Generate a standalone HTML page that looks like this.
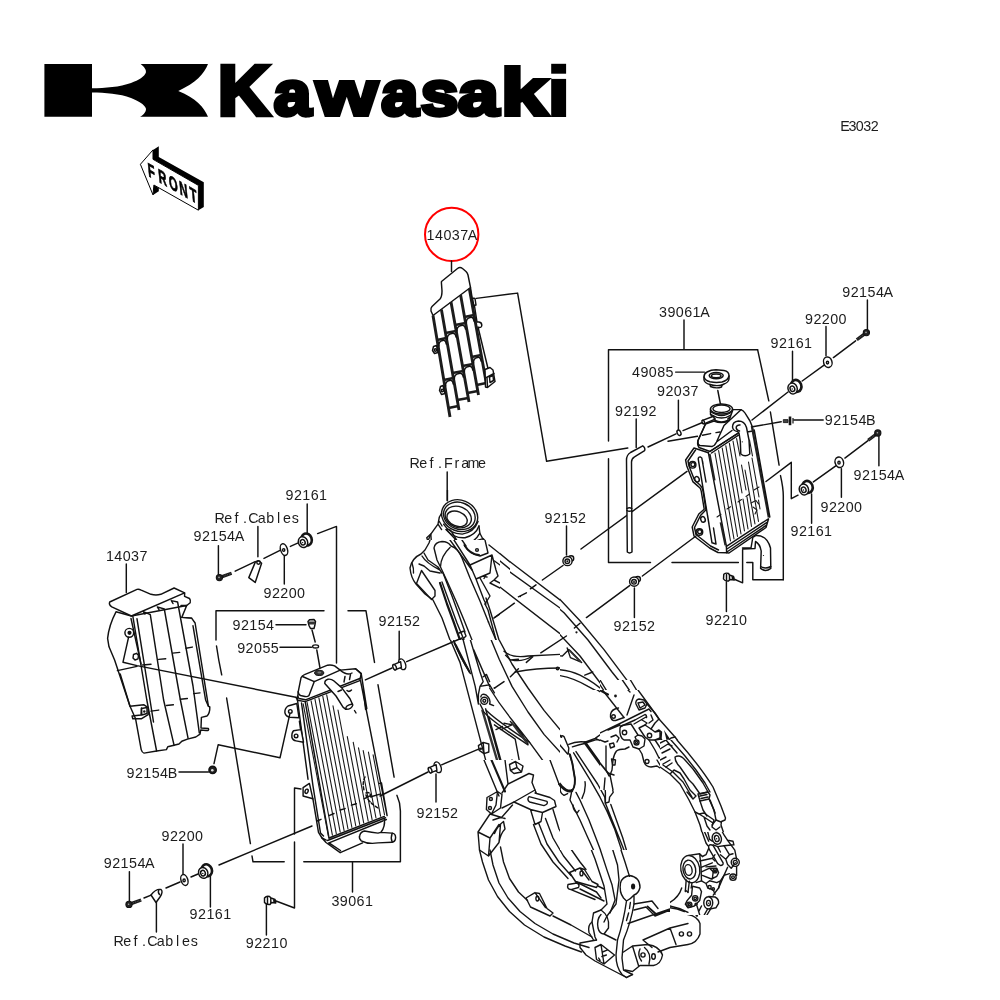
<!DOCTYPE html>
<html><head><meta charset="utf-8"><title>Kawasaki Radiator Parts Diagram</title>
<style>
html,body{margin:0;padding:0;background:#fff;}
body{width:1000px;height:1000px;overflow:hidden;font-family:"Liberation Sans",sans-serif;}
svg{display:block;will-change:transform;}
.l{fill:none;stroke:#111;stroke-width:1.45;stroke-linecap:round;stroke-linejoin:round;}
.t{fill:none;stroke:#1a1a1a;stroke-width:1.1;stroke-linecap:round;stroke-linejoin:round;}
.w{fill:#fff;stroke:#111;stroke-width:1.45;stroke-linecap:round;stroke-linejoin:round;}
.k{fill:#111;stroke:none;}
.fr{fill:none;stroke:#151515;stroke-linecap:round;stroke-linejoin:round;}
.fr .f{fill:#151515;stroke:none;}
.lbl text{font-family:"Liberation Sans",sans-serif;font-size:14.3px;fill:#1c1c1c;}
</style></head><body>
<svg width="1000" height="1000" viewBox="0 0 1000 1000">
<rect width="1000" height="1000" fill="#fff"/>
<!-- 00_logo.svg -->
<g id="logo">
<path fill="#000" d="M44.4 64.1 H92 V88.2 C105 88.2 120 87 131 83 C139 80 144.5 76.5 145.9 72.5 C146.5 70 144 66.5 140.6 64.1 H208 C204 74 196 83 178.3 90.9 C196 98 204 107 208 116.8 H140.1 C144 114.5 146.5 111 145.9 108.4 C144.5 104.5 139 101 131 97.9 C120 94 105 92.6 92 92.6 V116.8 H44.4 Z"/>
<g font-family="Liberation Sans, sans-serif" font-weight="bold" font-size="70.20" fill="#000" stroke="#000" stroke-width="4.4" stroke-linejoin="miter">
<text transform="matrix(1.0342 0 0 1.0000 217.84 114.60)" vector-effect="non-scaling-stroke">K</text>
<text transform="matrix(0.9617 0 0 0.9090 273.82 114.60)" vector-effect="non-scaling-stroke">a</text>
<text transform="matrix(1.1301 0 0 0.9090 315.93 114.60)" vector-effect="non-scaling-stroke">w</text>
<text transform="matrix(0.9510 0 0 0.9090 381.24 114.60)" vector-effect="non-scaling-stroke">a</text>
<text transform="matrix(0.9675 0 0 0.9090 420.81 114.60)" vector-effect="non-scaling-stroke">s</text>
<text transform="matrix(1.0472 0 0 0.9090 458.05 114.60)" vector-effect="non-scaling-stroke">a</text>
<text transform="matrix(1.2014 0 0 0.9495 500.81 114.60)" vector-effect="non-scaling-stroke">k</text>
<rect x="551.2" y="63.8" width="14.9" height="9.9" stroke="none"/><rect x="551.2" y="78.9" width="14.9" height="38.1" stroke="none"/>
</g></g>
<!-- 01_front.svg -->
<g id="front">
<path fill="#000" d="M153 149.9 L158.8 146.3 V157.1 L203.8 182.3 V207 L198.4 210.2 V185.4 L153 159.3 Z"/>
<path fill="#000" d="M153.9 185 L158.8 188.1 V191.3 L153 194.9 Z"/>
<path d="M140.4 164.3 L153 149.9 V159.3 L198.4 185.4 V210.2 L153.9 185 L153 194.9 Z" fill="#fff" stroke="#000" stroke-width="1" stroke-linejoin="miter"/>
<g transform="matrix(1 0.575 0.1 1 149.4 176.4)"><text x="-1.4 16.7 34.8 52.6 71" y="0" font-family="Liberation Sans, sans-serif" font-weight="bold" font-size="19.6" fill="#000" stroke="#000" stroke-width="0.8" transform="scale(0.58 1)">FRONT</text></g>
</g>

<!-- 02_redcircle.svg -->
<circle cx="451.7" cy="234.4" r="26.7" fill="none" stroke="#f00" stroke-width="2"/>

<!-- 05_frame.svg -->
<g id="frame">
<defs>
<clipPath id="cpA"><rect x="400" y="480" width="160" height="160"/></clipPath>
<clipPath id="cpA2"><rect x="420" y="490" width="90" height="90"/></clipPath>
<clipPath id="cpA3"><rect x="400" y="540" width="100" height="100"/></clipPath>
<clipPath id="cpB"><rect x="400" y="640" width="160" height="160"/></clipPath>
<clipPath id="cpC"><rect x="560" y="560" width="140" height="160"/></clipPath>
<clipPath id="cpF"><rect x="620" y="780" width="140" height="140"/></clipPath>
<clipPath id="cpN"><rect x="560" y="690" width="80" height="110"/></clipPath>
<clipPath id="cpE"><rect x="600" y="680" width="160" height="160"/></clipPath>
<clipPath id="cpE1"><rect x="600" y="690" width="95" height="100"/></clipPath>
<clipPath id="cpL"><rect x="460" y="760" width="100" height="240"/><rect x="560" y="800" width="60" height="200"/><rect x="620" y="840" width="140" height="160"/></clipPath>
<clipPath id="cpP"><rect x="560" y="730" width="40" height="120"/><rect x="600" y="790" width="60" height="60"/></clipPath>
<clipPath id="cpE2"><rect x="660" y="740" width="100" height="100"/></clipPath>
<clipPath id="cpF1"><rect x="670" y="832" width="90" height="83"/></clipPath>
</defs>
<g clip-path="url(#cpA)"><rect x="400" y="480" width="160" height="160" fill="#fff"/>
<g class="fr" transform="translate(400 480) scale(0.16000)" stroke-width="8.75"><ellipse cx="368" cy="225" rx="114" ry="104" transform="rotate(8 368 225)"/>
<ellipse cx="370" cy="228" rx="98" ry="87" transform="rotate(8 370 228)"/>
<ellipse cx="372" cy="233" rx="83" ry="70" transform="rotate(6 372 233)"/>
<ellipse cx="370" cy="240" rx="72" ry="54" transform="rotate(4 370 240)"/>
<path d="M258 265 Q290 350 395 345 Q470 335 486 265 M268 300 Q300 372 400 368 Q470 358 492 300"/>
<path d="M255 235 L245 285 L215 322 L187 350 L170 368 L186 388 L165 402 L150 450 L110 470 L70 520 L60 580 L90 640 L150 700 L220 800 L290 1000"/>
<path d="M245 285 Q235 300 250 320 M230 270 Q222 280 228 292 M187 350 L200 372 L186 388"/>
<path d="M482 250 L492 330 L550 440 L580 470 M440 530 L575 470 L600 560 L610 610 L545 650 L470 610 M440 530 L470 610 M455 570 L585 510 M470 610 L600 555 M520 610 L545 650 M530 595 L550 605 M535 588 L545 612"/>
<path d="M290 310 Q300 300 320 320 L440 530 M335 330 L450 500 M400 420 L450 400 L510 380 L530 440 L470 480 L440 480 Z M400 420 L440 480"/>
<circle cx="482" cy="436" r="8"/>
<path d="M215 445 Q220 405 250 398 Q300 392 335 432 L380 452 M215 445 L240 540 L300 700 L400 1000 M380 452 L430 600 L510 800 L590 1000 M335 432 Q300 440 285 470 L260 500"/>
<path d="M150 450 L200 540 L240 580 L300 700 M110 470 Q150 480 165 520 L230 580 M70 520 Q100 560 150 575 L235 600 L270 640 M130 600 L215 690 L215 730 L290 1000 M165 560 L240 590 M250 640 L340 1000 M265 640 L370 960 L385 1000 M270 600 L300 640"/>
<path d="M470 640 L520 720 L540 760 L590 1000 M500 650 L560 800 M545 650 L590 640 L600 655 L540 720 M520 720 L545 690 M525 770 L535 745"/>
<path d="M580 430 L700 520 L1000 750 M610 520 L1000 800 M600 650 L1000 960 M560 800 L600 860 L620 1000"/>
<circle cx="752" cy="728" r="5" class="f"/><circle cx="550" cy="888" r="4" class="f"/></g></g>
<g clip-path="url(#cpA2)"><rect x="420" y="490" width="90" height="90" fill="#fff"/>
<g class="fr" transform="translate(420 490) scale(0.09000)" stroke-width="15.56"><path d="M655 400 L665 480 Q600 600 480 610 Q420 600 385 540 L290 440"/>
<ellipse cx="440" cy="285" rx="205" ry="172" transform="rotate(22 440 285)" fill="#fff"/>
<ellipse cx="437" cy="287" rx="180" ry="148" transform="rotate(22 437 287)"/>
<ellipse cx="425" cy="300" rx="150" ry="115" transform="rotate(22 425 300)"/>
<ellipse cx="412" cy="320" rx="118" ry="80" transform="rotate(22 412 320)"/>
<path d="M262 380 Q330 490 470 490 Q600 470 645 350 M290 440 Q380 540 500 530 Q620 500 655 400"/>
<path d="M240 260 L215 300 L200 380 L120 490 L75 530 L100 600 L125 560 L120 490 M100 600 L60 640 L0 720 M200 380 L240 440 M215 350 L245 400"/>
<path d="M300 440 Q330 430 350 460 L480 680 L570 820 M385 540 L420 600 L560 800 M500 620 Q560 600 640 560 L700 540 M665 480 L780 700 L800 720 L560 820 L580 860 L830 760 L800 720 M500 620 L560 720 L640 760 L720 720 L690 600 M580 860 L620 1000 M830 760 L870 940 L800 1000"/>
<path d="M500 625 L560 720 L640 760" stroke-width="18"/>
<circle cx="635" cy="665" r="18"/><circle cx="635" cy="665" r="6" class="f"/>
<path d="M160 640 Q170 585 235 580 Q300 585 340 640 L390 690 M160 640 L190 760 L230 1000 M230 760 Q270 670 350 650 Q420 670 455 750 L520 1000 M340 640 Q290 650 250 700"/>
<path d="M120 490 L60 640 M0 700 L60 760 L180 880 L240 920 M100 760 L200 860 M0 880 L80 900 L160 960 L200 1000 M20 720 Q80 700 120 760"/>
<path d="M700 540 L760 600 L1000 800 M780 700 L1000 880 M700 940 L760 960 L740 990"/>
<path d="M305 -50 V120"/></g></g>
<g clip-path="url(#cpA3)"><rect x="400" y="540" width="100" height="100" fill="#fff"/>
<g class="fr" transform="translate(400 540) scale(0.10000)" stroke-width="14.00"><path d="M340 80 Q350 20 420 15 Q480 15 510 60 M340 80 L370 200 L405 270 L470 410 L560 610 L640 800 L720 1000 M510 60 Q580 80 620 180 L700 380 L800 610 L900 860 L960 1000 M405 265 Q410 160 500 75"/>
<path d="M400 430 L470 640 L540 830 L600 1000" stroke-width="22"/>
<path d="M420 420 L500 640 L570 830 L640 1000 M430 330 L520 560 L600 780 L650 920 M590 930 L640 910 L660 960 L620 1000"/>
<path d="M210 140 Q120 180 100 280 Q110 380 160 440 L250 540 L330 600 L420 780 L500 1000 M210 140 L250 100 L290 30 L300 0"/>
<path d="M165 435 L215 305 L350 505 L350 560 L315 595 Z"/>
<path d="M220 160 Q260 230 400 300 M240 130 L280 200 L380 270 L420 330 M190 240 L240 260 L300 310 L400 330 M120 230 Q140 290 135 330"/>
<path d="M700 250 L920 150 L960 300 L980 360 L940 400 L900 430 M700 250 L760 390 L900 330 L920 150 M760 390 L840 600 L860 640 M800 380 L900 560 L850 640 M900 430 L1000 480 M940 400 L1000 430 M830 360 L870 370 M840 385 L860 350"/>
<path d="M640 50 Q700 150 800 160 L880 130 L850 0 M620 0 L660 60 M540 0 L700 250 M500 0 L690 260 L720 300"/>
<path d="M650 60 Q700 140 790 150" stroke-width="20"/>
<circle cx="770" cy="100" r="14"/><circle cx="770" cy="100" r="5" class="f"/>
<path d="M940 780 L1000 740 M850 640 L880 700 L960 1000 M860 580 L900 700 L990 1000 M890 50 L1000 138 M945 210 L1000 250"/><circle cx="885" cy="820" r="8" class="f"/></g></g>
<g clip-path="url(#cpB)"><rect x="400" y="640" width="160" height="160" fill="#fff"/>
<g class="fr" transform="translate(400 640) scale(0.16000)" stroke-width="8.75"><path d="M315 0 L375 140 L585 940 M335 0 Q380 120 440 210 M350 30 L430 190 M395 0 L470 290 L490 400 M440 0 L500 200 L520 260 L500 290 L490 340 L490 400 M460 60 L560 290 M520 230 L540 215 L560 260 M500 290 L560 280 L590 330"/>
<path d="M340 20 Q380 110 435 200" stroke-width="12"/>
<circle cx="527" cy="380" r="22"/><circle cx="527" cy="380" r="9"/>
<path d="M505 355 Q510 330 540 345 Q570 370 560 400 L585 410 M500 400 L520 440"/>
<path d="M515 440 L645 880" stroke-width="15" stroke="#333"/>
<path d="M535 430 L662 890 M555 480 L672 900"/>
<path d="M520 445 Q560 500 800 655 M540 440 Q600 500 810 640"/>
<path d="M490 660 L520 640 L555 650 L555 700 L525 710 L495 690 Z M520 640 L525 710"/><circle cx="505" cy="680" r="8" class="f"/>
<path d="M570 0 L620 120 L700 290 L800 450 L900 590 L1000 700 M620 0 L700 150 L800 300 L900 440 L1000 560"/>
<path d="M650 70 Q700 115 800 100 L1000 90 M720 200 Q850 175 1000 175 M660 95 L690 125 L740 120 M700 125 Q760 140 830 100"/>
<circle cx="590" cy="300" r="6" class="f"/><circle cx="985" cy="178" r="8"/>
<path d="M590 530 L720 620 L760 830 L770 870 L660 910 L640 880 M600 560 L640 540 M630 560 L700 530 L650 520"/>
<path d="M560 300 Q620 400 700 500 L810 640 L1000 900 M690 510 L740 560 L800 650"/>
<path d="M700 520 L790 640" stroke-width="12" stroke="#333"/>
<path d="M680 770 L700 750 L760 790 L770 830 L720 830 L690 810 Z M700 770 L740 800 L745 825"/>
<path d="M770 870 L820 830 L840 870 L830 900 L800 910 L810 950 L1000 1000 M560 980 L640 940 L650 960 L590 1000 M780 960 L900 1000"/></g></g>
<g clip-path="url(#cpC)"><rect x="560" y="560" width="140" height="160" fill="#fff"/>
<g class="fr" transform="translate(540 560) scale(0.16000)" stroke-width="8.75"><path d="M0 150 L100 220 L250 380 L400 560 L550 760 L650 900 L720 1000 M0 200 L150 330 L300 500 L450 700 L570 850 M0 370 L100 440 L250 600 L400 800 L480 900 L530 1000"/>
<path d="M0 590 L140 600 L180 560 L260 640 M170 550 L190 610 L260 640 M0 690 Q150 670 250 720 Q350 770 420 840 M0 720 Q150 700 300 790 L430 860 M280 720 L330 700"/>
<path d="M188 568 L250 632" stroke-width="13" stroke="#333"/>
<circle cx="228" cy="452" r="7" class="f"/><circle cx="110" cy="680" r="7"/><circle cx="470" cy="850" r="8" class="f"/>
<path d="M440 960 Q450 930 480 930 L520 960 M560 830 L600 820 L700 1000 M590 870 L640 850 L680 900 L600 940 M560 1000 L580 880 M600 940 L620 1000"/>
<circle cx="458" cy="975" r="9"/></g></g>
<g clip-path="url(#cpF)"><rect x="620" y="780" width="140" height="140" fill="#fff"/>
<g class="fr" transform="translate(620 780) scale(0.14000)" stroke-width="10.00"><path d="M400 0 L500 120 L560 250 L610 400 L620 450 M450 0 L540 110 L600 230 L650 330 M520 0 L600 90 L680 200 L720 290 L740 300 L750 260 L700 150 L620 20 L600 0 M560 110 L640 100 L650 130 M580 140 L680 280 M600 180 L700 300"/>
<path d="M620 150 L680 270" stroke-width="14"/>
<ellipse cx="690" cy="410" rx="30" ry="40" transform="rotate(-15 690 410)"/><ellipse cx="690" cy="410" rx="12" ry="18" transform="rotate(-15 690 410)"/>
<path d="M720 290 L760 420 L800 440 L790 470 L700 470 M640 440 L700 470 L740 560 L720 600 L660 500 Z M800 440 L830 520 L820 560 M760 500 L800 520 M740 470 L770 560 L750 620"/>
<circle cx="820" cy="590" r="28"/><circle cx="820" cy="590" r="12"/>
<path d="M780 620 L830 640 M770 650 L740 700 L790 690 M840 620 L830 680"/><circle cx="810" cy="690" r="16"/><circle cx="810" cy="690" r="7"/>
<path d="M470 545 L560 530 Q590 550 600 600 M520 735 L590 720 Q610 690 600 600"/>
<ellipse cx="500" cy="640" rx="62" ry="100" transform="rotate(-12 500 640)" fill="#fff"/><ellipse cx="497" cy="643" rx="42" ry="70" transform="rotate(-12 497 643)"/><ellipse cx="495" cy="645" rx="22" ry="35" transform="rotate(-12 495 645)"/>
<path d="M590 560 L660 580 L690 620 M600 620 L680 640 M600 660 L660 700 L700 690 M640 600 L700 650 L690 700 M560 530 L600 500 L620 450"/>
<path d="M470 720 L470 800 M500 730 L500 810 M440 800 L470 850 L520 800 L560 790 L580 830 L560 880 L500 910 L470 880 Z"/><circle cx="540" cy="845" r="18"/><circle cx="490" cy="885" r="15"/>
<ellipse cx="630" cy="870" rx="36" ry="42"/><ellipse cx="630" cy="872" rx="15" ry="20"/>
<path d="M600 740 L640 790 L700 770 L740 700 M580 740 L600 800 L590 830 M620 930 L600 1000 M660 920 L640 1000 M670 850 L700 840 L720 780"/>
<path d="M0 380 L60 680 M0 560 L40 700 M110 820 L130 1000 M20 830 L40 1000 M0 820 L50 830"/>
<ellipse cx="90" cy="760" rx="50" ry="62" transform="rotate(-15 90 760)"/><ellipse cx="92" cy="765" rx="15" ry="22" class="f" transform="rotate(-15 92 765)"/>
<path d="M130 880 L220 890 L260 960 L480 900 L520 920 M220 890 L240 1000 M260 960 L300 1000 M300 930 L470 880 M440 800 Q400 860 330 890 L260 960"/></g></g>
<g clip-path="url(#cpN)"><rect x="560" y="690" width="80" height="110" fill="#fff"/>
<g class="fr" transform="translate(480 640) scale(0.16000)" stroke-width="8.75"><path d="M70 0 L130 120 L200 240 L300 400 L400 530 L500 640 L560 720 M110 0 L160 100 L230 210 L330 370 L430 510 L520 610 L555 680"/>
<path d="M500 600 Q520 590 535 610 L560 690 L555 720"/>
<path d="M0 170 L60 300 L150 430 L250 560 L330 660 L400 760 L470 860 L520 920 Q550 950 570 935 Q595 900 590 830 L570 740 L555 690"/>
<path d="M470 860 L520 920 Q550 950 570 935" stroke-width="15"/>
<path d="M150 110 Q400 60 560 100 L600 130 M230 200 Q450 150 600 230 L700 290 L790 350 M240 215 Q450 170 590 245 L690 305 M545 60 Q560 40 580 55 L600 130 M560 100 L545 60 M640 215 L690 240 M700 240 L760 300"/>
<circle cx="565" cy="70" r="8"/><circle cx="480" cy="178" r="9"/>
<path d="M680 0 L780 130 L870 260 L950 360 M744 0 L812 94 L906 225 L1000 344 M519 0 L644 150 L737 269 L812 375 L860 440"/>
<circle cx="845" cy="350" r="9" class="f"/>
<path d="M790 350 L860 440 L900 490 M830 430 Q800 460 810 490 Q830 510 870 500 L900 490 M830 430 L860 440"/><circle cx="832" cy="478" r="12"/>
<path d="M560 660 Q600 640 660 640 L720 600 L1000 450 M600 660 Q640 650 690 630 L760 590 L820 620 M720 600 L780 640 M790 600 L790 820 L770 900 L790 1000 M740 620 L800 600"/>
<path d="M660 650 L800 830" stroke-width="15"/>
<path d="M810 650 L840 640 L850 670 L820 680 Z M825 745 L850 750 L848 790 L828 790 Z"/>
<path d="M570 740 L640 850 L700 1000 M590 720 L680 860 L740 1000 M620 700 L700 820 L780 1000 M600 770 L620 800 M650 880 Q670 920 650 980"/>
<path d="M850 850 L830 900 L850 940 L820 970 L830 1000 M900 700 Q920 690 1000 690 M880 720 Q850 780 850 850"/>
<path d="M880 560 Q890 540 920 545 L950 570 L1000 590 M880 560 Q875 600 910 620 L950 620 L980 640"/><circle cx="905" cy="578" r="14"/>
<path d="M940 340 Q960 330 1000 350 M950 420 L1000 400 M930 470 L1000 440"/></g></g>
<g clip-path="url(#cpE)"><rect x="600" y="680" width="160" height="160" fill="#fff"/>
<g class="fr" transform="translate(600 680) scale(0.16000)" stroke-width="8.75"><path d="M190 0 L300 180 L400 290 L550 470 L680 640 L750 780 L780 860 L760 900 L740 880"/>
<path d="M140 0 L250 160 L290 200 M330 230 L420 330 L520 450 L640 600 L700 700 M385 300 L470 400 L560 520 L650 650 L690 720"/>
<path d="M390 305 L430 365" stroke-width="14"/>
<path d="M0 30 L40 90 M0 0 L130 210 L160 230"/><circle cx="95" cy="100" r="7" class="f"/>
<path d="M70 200 Q60 240 100 250 L150 230 M100 170 L70 200"/><circle cx="85" cy="225" r="10"/>
<path d="M0 330 L280 190 M0 300 L270 170 M30 345 L120 300 M150 290 L290 220 M270 170 L300 180 L320 210 L310 250 L290 220 M215 100 L180 200 M240 110 Q220 150 250 180 L290 170"/>
<path d="M120 310 Q130 290 160 300 L200 340 L270 360 L280 410 L250 430 L200 410 L170 380 Q130 370 120 310 Z"/><circle cx="150" cy="330" r="12"/><circle cx="225" cy="385" r="15"/>
<path d="M240 290 L290 320 L340 300 L380 320 L380 370 L340 390 L300 380 L270 340 Z"/><circle cx="312" cy="350" r="14"/>
<path d="M0 420 Q60 380 100 350 M0 600 L40 590 L60 560 M40 430 L40 580 M60 395 L85 390 L90 415 L65 420 Z M70 500 L95 510 L85 540 L70 540 Z"/>
<path d="M0 520 L45 590" stroke-width="14"/>
<path d="M100 540 Q110 470 150 440 Q200 420 250 440 L270 500 Q290 540 340 540 L400 560 L500 640 L600 800 L650 950 L660 1000"/><circle cx="290" cy="510" r="13"/>
<path d="M340 400 L420 470 L500 530 L560 620 L620 700 L680 720 M360 470 L440 500 L520 600 L600 720 L640 800 L700 870 M420 470 L470 450 L560 520 M400 530 L470 600 M600 720 L660 700 L690 720 L700 760 M620 740 L690 760 M640 800 L700 790 M650 850 L720 900 M700 930 L740 960 M710 870 L730 940"/>
<path d="M685 765 L715 845" stroke-width="12"/>
<circle cx="725" cy="985" r="20"/>
<path d="M0 800 L60 1000 M40 790 L100 1000 M0 640 Q30 700 20 780 M60 610 Q90 650 60 700 L40 790"/></g></g>
<g clip-path="url(#cpE1)"><rect x="600" y="690" width="95" height="100" fill="#fff"/>
<g class="fr" transform="translate(595 690) scale(0.10000)" stroke-width="14.00"><path d="M40 0 L130 45" stroke-width="20"/>
<path d="M75 0 L290 275"/><circle cx="205" cy="60" r="14" class="f"/>
<path d="M200 190 Q150 210 155 270 Q170 320 220 300 L290 275 M200 190 L235 180"/><circle cx="185" cy="265" r="18"/>
<path d="M390 50 L320 250 M430 0 L540 150 L640 290 L800 470 L1000 730 M330 0 L350 20"/>
<path d="M410 140 Q400 100 440 90 L490 100 L520 140 L500 180 L440 200 Z M430 130 L480 120 L500 150 L450 180 Z"/>
<path d="M0 455 L280 320 L540 190 L560 215 M255 365 L400 300 M390 340 L510 270 M400 300 L500 245 Q520 250 515 275 M130 400 L250 350 M0 480 L100 520 L130 510"/>
<path d="M250 380 Q260 350 300 350 L360 340 L430 450 L470 460 L500 490 L490 560 L440 590 L380 570 L350 500 L290 500 Q240 470 250 380 Z M430 450 L400 470 L410 490"/><circle cx="295" cy="425" r="22"/><circle cx="415" cy="525" r="25"/><circle cx="415" cy="525" r="11"/>
<path d="M440 380 L500 350 L560 390 L600 420 L650 410 L650 480 L600 500 L540 500 L500 470 Z M600 420 L640 400 L665 420 L660 490 L600 500"/><circle cx="545" cy="455" r="22"/>
<path d="M520 140 L600 230 L640 290 L600 330 L560 390 M560 250 L580 300 L540 330 M470 300 L520 330 L500 350"/>
<path d="M690 400 L750 490 L715 500 Z" class="f"/>
<path d="M650 480 L700 540 L720 620 L690 640 M600 500 L640 560 L680 620 M700 540 L760 480 L800 470 M720 620 L800 580 L820 600 L760 650 M680 640 L740 700 L700 760 L660 740 M640 680 L700 660 L740 700 M660 720 L700 700 M690 770 L740 740 M800 650 Q860 640 900 700 L960 760 L1000 780 M760 650 L840 720 L900 800 L940 900 L1000 1000 M700 760 L780 830 L860 900 L900 1000 M620 700 L680 800 L760 860 L830 940 L870 1000 M540 500 L600 600 L640 680"/>
<path d="M215 610 Q240 590 300 590 L340 570 M215 610 Q190 640 180 700 L170 800 L150 850 M440 590 L470 640 L490 720 Q510 770 560 770 L620 760 L680 800"/><circle cx="520" cy="715" r="20"/>
<path d="M110 560 L110 800 L140 860 M145 540 L185 530 L195 565 L155 580 Z M165 690 L205 700 L200 750 L175 750 Z M100 880 L90 1000 M150 850 L180 1000 M0 900 L20 1000 M130 830 L190 850 M160 470 L210 450 L240 480 L220 520"/>
<path d="M0 670 L130 830" stroke-width="18"/></g></g>
<g clip-path="url(#cpL)"><rect x="460" y="760" width="300" height="240" fill="#fff"/>
<g class="fr" transform="translate(460 760) scale(0.30000)" stroke-width="4.67"><path d="M80 0 L130 120 M150 0 L160 80 L230 45 L245 50 L240 75 L250 100 L180 140 L140 160 M160 80 L140 110"/>
<path d="M105 0 L150 105" stroke-width="7"/>
<path d="M165 15 L185 5 L210 20 L205 40 L180 45 L168 35 Z M185 5 L190 25 L205 40 M190 25 L168 35"/>
<path d="M90 125 L125 105 L140 115 L135 160 L105 180 L88 165 Z M125 105 L120 150 L105 180"/><circle cx="103" cy="130" r="5"/><circle cx="100" cy="160" r="5"/>
<path d="M60 240 L100 180 L150 195 M60 240 L65 300 L95 320 L130 275 L135 215 M95 320 L100 260 L130 215 M60 240 L100 260 M110 200 L140 190 L175 150 M115 245 Q125 220 145 205 L150 230 Q135 245 130 275"/>
<path d="M180 140 L235 165 L250 215 L270 205 L275 175 L320 155 L315 135 L300 125 L250 110 M235 165 L275 175 M230 122 Q222 132 232 140 L280 152 Q295 148 290 138 Z M250 100 L255 112"/>
<path d="M65 300 L75 340 L95 400 L125 455 L165 505 L215 550 L280 590 L350 620 L405 640 M100 300 L110 350 L130 410 L160 460 L200 505 L250 545 L310 580 L380 610 L430 625 M135 290 L145 340 L165 395 L195 440 L225 468 M310 520 L370 550 L440 590"/>
<path d="M220 460 L250 442 L265 445 L290 495 L310 510 L300 520 L235 490 Z M250 442 L285 492 M265 445 L290 495"/><ellipse cx="258" cy="462" rx="5" ry="8"/>
<path d="M245 215 L270 280 L310 340 L360 395 M262 210 L290 280 L330 340 L370 385 M285 195 L310 260 L345 320 L385 370 M310 165 L330 230 L365 290 L400 340 L420 365 M400 430 L460 460 L480 470 M460 420 L480 430"/>
<path d="M365 375 L400 360 L415 365 L440 405 L460 415 L455 425 L385 405 Z M400 360 L430 400 M415 365 L440 405"/><ellipse cx="405" cy="378" rx="5" ry="8"/>
<path d="M360 415 Q355 430 370 432 L395 425 Q400 415 390 410 Z M385 405 L455 440 L470 460 M370 432 L450 465"/>
<path d="M300 0 L330 80 M330 80 L370 150 L410 230 L450 330 L480 420 L490 480 L470 500 L445 510 L440 540 L450 590 L455 600"/>
<path d="M330 80 Q350 110 375 95 Q390 60 380 0" stroke-width="7"/>
<path d="M400 133 L468 300 L490 367 L507 417 L517 467 L500 510"/>
<path d="M420 0 L440 60 L480 150 L520 250 L550 340 L565 388 M395 0 L420 80 L460 170 L500 270 L525 350 L530 400 L520 480 L490 520 L480 540 M480 0 L490 40 L500 30 L505 70 L515 60 L512 110 L520 140 M350 140 L365 175 M395 90 Q390 110 398 125"/>
<path d="M535 410 Q540 390 565 385 Q600 390 600 425 Q595 445 580 450 L580 480 Q570 540 545 600 L540 660 L545 700 L575 715 M535 410 Q530 440 545 460 L555 470 Q545 540 525 600 L520 650 Q520 690 540 715 L555 725 M580 450 Q570 462 555 470 M568 475 L565 495 M562 510 L555 535"/>
<ellipse cx="577" cy="422" rx="7" ry="10" class="f"/>
<path d="M455 600 L400 610 L400 625 L420 650 L450 670 L555 725 L575 715 M440 540 Q425 550 430 575 L445 600 M470 500 Q500 520 495 560 L480 580 Q465 580 460 560 Q455 530 470 515 M480 580 L520 600"/>
<path d="M450 625 L470 615 L515 650 L480 680 L455 665 Z M470 615 L480 680 M475 640 L490 634 M473 655 L488 650 M462 660 L467 668"/>
<path d="M580 480 L640 470 M560 545 L690 500 L760 515 Q790 520 800 545 L800 580 Q790 610 760 615 L700 625 L660 640 M610 600 L700 560 L720 615 M610 600 L640 625 M580 500 L620 490 L650 520 L700 500 M640 470 L660 495 M690 500 L720 490 L770 500 L790 520 M700 560 L760 545"/>
<path d="M625 488 L655 515" stroke-width="6"/>
<circle cx="738" cy="580" r="7"/><circle cx="765" cy="580" r="7"/>
<path d="M545 640 L575 620 L625 615 Q665 620 675 650 Q670 680 645 685 L600 685 L575 705 L550 700 M575 620 L595 685 M600 630 Q590 650 605 670 M615 625 Q640 645 630 680"/><ellipse cx="645" cy="655" rx="6" ry="9"/><circle cx="610" cy="650" r="7"/>
<path d="M790 520 L810 470 L790 450 M700 500 Q740 470 750 440 M720 490 L760 440"/></g></g>
<g clip-path="url(#cpP)"><rect x="540" y="730" width="120" height="120" fill="#fff"/>
<g class="fr" transform="translate(540 730) scale(0.12000)" stroke-width="11.67"><path d="M60 0 L230 200 M130 0 L180 60 M165 60 Q180 40 200 55 L240 150 L235 200"/>
<path d="M0 225 L120 400 L180 470 Q230 520 265 505 Q295 480 290 400 L270 280 L245 200"/>
<path d="M120 400 L180 470 Q230 520 265 505" stroke-width="24"/><path d="M265 505 Q295 480 290 400 L270 280 L250 205" stroke-width="16"/>
<path d="M170 480 Q160 520 200 545 L230 530 M275 625 Q275 670 310 690 L325 670"/>
<path d="M240 120 Q300 90 380 100 L460 70 L540 10 M270 140 Q330 120 380 110 L470 80 L560 95 L640 60 M470 75 L520 95"/>
<path d="M375 105 L565 370" stroke-width="24"/>
<path d="M555 130 L555 350"/>
<path d="M265 510 L250 583 L333 750 L400 900 L446 1000 M280 190 L420 420 L500 560 L560 680 L620 820 L680 1000 M300 180 L400 330 L480 450 L540 560 L545 610 M300 520 L333 583 L408 750 L466 900 L504 1000 M545 610 L600 750 L660 900 L700 1000 M590 620 L640 760 L690 900 L720 1000 M375 430 Q385 500 350 570"/>
<path d="M565 370 L610 380 L625 400 L600 470 L610 520 L580 560 L575 600 L545 610 M540 380 Q535 450 545 520 L545 610 M565 480 L600 465"/>
<path d="M585 115 L615 105 L625 135 L595 145 Z M600 240 L630 250 L625 300 L605 300 Z"/>
<path d="M650 60 Q700 100 700 170 M715 170 Q660 200 640 290 L625 400"/></g></g>
<g clip-path="url(#cpE2)"><rect x="660" y="740" width="100" height="100" fill="#fff"/>
<g class="fr" transform="translate(660 740) scale(0.10000)" stroke-width="14.00"><path d="M170 0 Q400 260 530 470 L610 660 L655 780 L650 800 L615 815 L610 850 L640 940 L680 1000"/>
<path d="M110 0 L250 160 L360 300 L450 430 L500 520"/>
<path d="M150 170 Q200 140 250 200 L330 290 L430 430 L480 520 L400 540 L330 440 L290 400 L200 270 Q150 220 150 170 Z"/>
<path d="M0 270 L100 340 L200 440 L290 600 L350 720 L400 850 L440 1000 M30 250 L130 320 L230 420 L320 570 M240 390 L300 500 L360 560 L330 590 L270 520 M100 340 L140 300 L200 330 L240 390"/>
<path d="M380 540 L480 520 L500 550 L490 590 L400 610 Z M400 560 L470 545 M410 585 L480 570"/>
<path d="M400 610 L430 700 L470 760 M490 590 L540 700 L560 800 L520 850"/>
<path d="M500 600 L550 730" stroke-width="16"/>
<path d="M390 740 L440 730 L540 800 L530 830 L440 770 Z M440 770 L470 860 L500 900 M530 830 L520 870 L560 900 L600 870 M560 800 L610 820 M350 720 L390 740"/>
<circle cx="565" cy="965" r="40"/><circle cx="565" cy="968" r="15" class="f"/>
<path d="M0 30 L60 0 M0 90 L80 40 L120 60 M20 130 L100 90 M0 200 L60 170 M30 240 L100 200 M60 270 L120 230 M60 0 L110 60 L170 130"/></g></g>
<g clip-path="url(#cpF1)"><rect x="670" y="832" width="90" height="83" fill="#fff"/>
<g class="fr" transform="translate(670 825) scale(0.09000)" stroke-width="15.56"><path d="M190 340 L330 320 L360 350 M290 640 L350 620 M330 320 Q350 470 350 620"/>
<ellipse cx="225" cy="490" rx="105" ry="152" transform="rotate(-10 225 490)" fill="#fff"/><ellipse cx="215" cy="495" rx="70" ry="105" transform="rotate(-10 215 495)"/><ellipse cx="205" cy="500" rx="40" ry="60" transform="rotate(-10 205 500)"/>
<path d="M330 400 L470 370 L500 400 M345 470 L470 420 M350 520 L440 480 L520 480 L540 530 M360 560 L460 600 L520 570 L540 530 M470 370 L500 330 M440 480 L480 520 L470 600 M360 350 L400 330 L430 260"/>
<path d="M400 465 L510 455" stroke-width="16"/>
<circle cx="500" cy="510" r="22"/><circle cx="500" cy="510" r="9"/>
<path d="M330 0 L400 200 L420 230 M350 0 L430 180 M400 0 L440 160 L470 180 M450 0 L480 60 M540 0 L600 110 L640 170 L700 180 L710 220 L600 230 L530 240 L480 220"/>
<ellipse cx="520" cy="150" rx="50" ry="65" transform="rotate(-15 520 150)"/><ellipse cx="520" cy="150" rx="25" ry="35" transform="rotate(-15 520 150)"/><circle cx="518" cy="152" r="8" class="f"/>
<path d="M430 230 Q450 210 480 230 L590 420 Q595 450 560 450 L530 430 L430 260 Z"/>
<path d="M640 170 L720 280 L740 380 M600 230 L660 330 L620 380 L560 330 M660 330 L700 320 M620 380 L640 440 L680 480 L720 430 M530 240 L560 300"/>
<circle cx="725" cy="415" r="45"/><circle cx="725" cy="415" r="22"/><circle cx="725" cy="415" r="8" class="f"/>
<circle cx="700" cy="580" r="35"/><circle cx="700" cy="580" r="15"/>
<path d="M740 460 L740 560 M660 540 L600 560 L540 700 L480 780 M640 470 L600 560"/>
<path d="M180 610 L170 740 M215 625 L200 750 M245 640 L235 700"/><path d="M172 725 L200 745" stroke-width="16"/>
<path d="M130 700 Q100 800 0 860 M0 900 Q100 920 200 970 M250 680 L330 700 L350 740 L330 840 L270 900 L200 920 L170 880 L190 840 L240 780 Z"/>
<circle cx="280" cy="815" r="30"/><circle cx="280" cy="815" r="14"/><circle cx="215" cy="885" r="28"/><circle cx="215" cy="885" r="12"/><circle cx="290" cy="880" r="12"/>
<path d="M0 920 Q80 925 160 962" stroke-width="16"/>
<path d="M430 795 L500 800 Q545 820 540 870 L510 920 L440 935"/>
<ellipse cx="425" cy="865" rx="50" ry="68" fill="#fff"/><ellipse cx="428" cy="868" rx="22" ry="30"/><circle cx="430" cy="870" r="8" class="f"/>
<path d="M350 620 L400 650 L420 700 L480 720 L500 770 M400 650 L440 620 L520 640 L560 620 L600 560 M560 620 L540 700"/>
<circle cx="440" cy="690" r="18"/><circle cx="480" cy="712" r="14"/>
<path d="M420 930 L380 1000 M450 935 L410 1000 M300 900 L330 1000 M350 900 L320 960"/></g></g>
</g>
<!-- 10_guardA.svg -->
<g id="guardA">
<path class="w" d="M441.5 281.5 L457.5 268.5 Q460 266.5 462.5 268.5 L466 271.5 Q467.5 273 468 275 L470.5 287.5 L433 315.5 L431 311 Q430.5 308 432 306.5 L440 299 Q442 296.5 442 291 L441.5 284 Q441.3 282.5 441.5 281.5 Z"/>
<path class="l" d="M451.5 261 V271.5"/>
<path d="M433.0 315.5 L450.0 417.0 M441.4 309.5 L459.0 410.0 M451.0 302.0 L469.0 402.0 M460.6 295.0 L478.5 395.0 M469.3 288.5 L487.0 387.0 " fill="none" stroke="#1c1c1c" stroke-width="2.9" stroke-linecap="butt"/>
<path d="M437.1 340.0 L446.4 338.0 M445.5 333.0 L456.2 331.0 M455.1 325.0 L465.6 323.0 M464.5 317.0 L474.1 315.0 M443.8 380.0 L453.4 378.0 M452.5 373.0 L463.4 371.0 M462.5 366.0 L473.0 364.0 M471.7 357.0 L481.2 355.0 M448.5 408.0 L458.3 406.0 M457.2 400.0 L468.3 398.0 M467.4 393.0 L477.8 391.0 M476.7 385.0 L486.3 383.0 " fill="none" stroke="#1c1c1c" stroke-width="2.7"/>
<path d="M438.9 346.0 Q438.4 341.5 442.6 340.5 Q445.5 339.5 446.3 344.0 M447.4 339.0 Q446.9 334.5 451.8 333.5 Q455.3 332.5 456.1 337.0 M457.0 331.0 Q456.5 326.5 461.3 325.5 Q464.7 324.5 465.5 329.0 M466.4 323.0 Q465.9 318.5 470.2 317.5 Q473.2 316.5 474.0 321.0 M445.6 386.0 Q445.1 381.5 449.5 380.5 Q452.5 379.5 453.3 384.0 M454.4 379.0 Q453.9 374.5 458.9 373.5 Q462.5 372.5 463.3 377.0 M464.4 372.0 Q463.9 367.5 468.6 366.5 Q472.0 365.5 472.8 370.0 M473.6 363.0 Q473.1 358.5 477.4 357.5 Q480.3 356.5 481.1 361.0 " class="l" stroke-width="1.2"/>
<path class="l" d="M470.5 287.5 L472 297 M472.5 298 L475 298.5 L476 305 L473.8 305.5 Z M474.5 306 L477 322 L479 322 Q482 322.5 481.8 325.5 Q481.5 328 478.5 327.5 L478 327 L488 368.5"/>
<path class="l" d="M476.3 298.4 L517.6 293.1 L546.6 461.3 L627.8 448"/>
<path class="w" d="M485 369.5 L490 367.5 L493 370 L495 381.5 L487.5 387.5 L485.5 387 Z"/>
<path class="l" d="M486.5 377.5 L494 373.5 M487 378 L487.5 387 M489.5 377 L493 375.5 L493.5 380.5 L490 382.5 Z"/>
<path class="w" d="M436.5 345.5 L433.5 346.5 L432.5 350.5 L434.5 353.5 L438 352.5 Z M443 385.5 L440.5 386.5 L439.5 390.5 L441.5 394.5 L445 393.5 Z"/>
<circle class="l" cx="435.5" cy="350" r="1.2"/><circle class="l" cx="442.3" cy="390.5" r="1.2"/>
</g>
<!-- 20_radR.svg -->
<g id="radR">
<!-- assembly box lines -->
<path class="l" d="M684 320 V349.7 M608.5 441 V349.7 H757.6 M608.5 458.8 V562.4 H650.5 M672 562.4 H738.4 M746.8 562.4 H752.8 V579.8 H783.3"/>
<!-- cap 49085 -->
<path class="w" d="M704 380 L704 377 Q704 373.5 707 372 Q711 369.8 716 369.8 L724 370.5 Q729 371.5 729 375.5 L729 379 Q728.5 382.5 724 384 L722 385 L721.5 387 Q716 389 710.5 386.5 L710 384.5 Q704.5 383 704 380 Z"/>
<path class="l" d="M704 377 Q705 380.5 710 381.8 Q716 383 722 382 Q728 380.5 729 376 M710 384.5 Q716 386.5 722 385"/>
<ellipse class="l" cx="716.2" cy="375.6" rx="7" ry="3.2"/><ellipse class="l" cx="716.2" cy="375.8" rx="4.8" ry="1.9"/>
<path class="l" d="M675.6 372.1 H704.5 M717.8 390.5 L721 407"/>
<!-- filler neck -->
<path class="w" d="M710.5 409 V414.5 Q712 417.5 715 418.5 V420.5 Q721.5 423.5 728 420.5 V418.5 Q731.5 417.5 732.5 414.5 V409 Z"/>
<ellipse class="w" cx="721.5" cy="409" rx="11" ry="5"/><ellipse class="l" cx="721.5" cy="408.8" rx="8.6" ry="3.7"/>
<path class="l" d="M710.5 411.5 Q721.5 419.5 732.5 411.5 M711 414.5 Q721.5 421.5 732 414.5"/>
<!-- small pipe -->
<path class="w" d="M702.6 420.4 L713.5 416.3 L714.5 419.3 L704 423.8 Z"/>
<ellipse class="w" cx="703.2" cy="422" rx="1.2" ry="1.9" transform="rotate(-20 703.2 422)"/>
<!-- tank body -->
<path class="w" d="M705.5 424 L714 421 Q721.5 424.5 729 420.5 L733 409.6 H741 Q743.5 410.5 745 413 L750 421 L752 426 L753 431 L737.5 433.5 L710 451.5 L699 447.5 Q697 445 698 440.5 Z"/>
<path class="l" d="M705.5 424 L698 440.5 Q697.3 444.5 700 445.5 L712 446.5 Q714.5 446 716.5 442 L724 425.5 L741 409.8 M716.5 442 L732 430.5"/>
<!-- hose elbow upper -->
<path class="w" d="M737.5 431.5 Q733 431 732.5 427 Q732.5 421.5 738.5 421 Q744.5 421 746.5 427.5 L749 440 L749.8 454 Q745 457.5 740.8 454 L740.3 441 L739 433 Z"/>
<path class="l" d="M739.5 431 Q736 430 736.2 427 Q737 424.5 740 425"/>
<circle class="k" cx="742.3" cy="441.8" r="0.6"/>
<!-- right side strip -->
<path d="M751.8 426 L768.8 517.5" fill="none" stroke="#222" stroke-width="2.2"/>
<path class="l" d="M754.2 430 L769.8 517"/>
<!-- core outline -->
<path class="l" stroke-width="1.3" d="M708.4 452.8 L726.4 546.4 M710.2 451.2 L737.5 433.6"/>
<path d="M709.6 454 L714.6 480.4 M720.6 522.4 L725.4 545.2" fill="none" stroke="#222" stroke-width="2"/>
<path class="l" d="M711.5 453 L738.5 435.2 M726.4 546.4 L768.4 518.8 M727 549 L767 522.3 M727.6 551.5 L766.5 525.2 M726.4 546.4 L726.6 552.8 L729 553 L766 527.5 L768.5 519"/>
<!-- fins -->
<path class="t" d="M715 453 L730.5 541 M718.6 450.5 L734 539 M722.2 448 L737.5 536.5 M725.8 445.7 L741 534 M729.4 443.3 L744.5 531 M733 441 L742 493 M743 499 L748 529 M736.6 438.6 L740 456 M741.5 465 L746 490 M747 497 L751.5 526.5 M745 470 L755 524 M748.5 462 L758.5 521.5 M752 458 L759 497 M749.5 440 L752.5 456"/>
<path class="t" d="M746 496.5 L749.5 494 M738 502 L741.5 499.5 M727 509 L730.5 506.7 M717 517 L721 514.3 M754 490 L759 487"/>
<path class="t" d="M751 503 L756 500.5 L758.5 504 M753 507 L757 510 L755 514 M758.5 500 L760 509"/>
<!-- left bracket -->
<path class="l" stroke-width="2.3" d="M708.4 452.8 L694 448 L685.6 460 L686.8 466 L692.8 481.6 L698.2 486.4 Q701 488 701.2 491 L704.2 509.2 L698.8 514 L692.2 527 L694 536 L709.6 548 L718 552.5 L726.5 552.8"/>
<path class="l" d="M695.5 450 L688 461 L689 466 L694.5 480 L700 485 Q702.8 487.5 703 491 L706 509.8 L700.5 515.5 L694.5 527.5 L696 534.5 L710.5 546 L718.5 550"/>
<path class="l" d="M698.2 458.8 Q698.5 456.5 700.5 457 L701.8 458 L706 482 M698.2 458.8 L712 542.8 M702.5 461 L703 464 M712 542.8 L716 544 L713.5 528 M707.5 515 L709 524"/>
<circle class="l" cx="692.6" cy="464.8" r="3.3"/><circle class="l" cx="692.9" cy="464.6" r="2"/>
<ellipse class="l" cx="697" cy="479.2" rx="2.2" ry="2.8" transform="rotate(-20 697 479.2)"/>
<ellipse class="l" cx="703" cy="519.4" rx="2.2" ry="2.8" transform="rotate(-20 703 519.4)"/>
<circle class="l" cx="699.4" cy="532" r="3.3"/><circle class="l" cx="699.7" cy="531.8" r="2"/>
<!-- lower outlet hose -->
<path class="w" d="M742.5 548 H751 L752.8 537.5 L756 535.5 Q767 535 770.5 548 L770.8 568.4 Q765.5 572.5 760.6 568.4 L761.2 551 Q760 544 755.5 541.5 L755 548.5 L743 549"/>
<path class="l" d="M760.8 566.5 Q765.5 569.5 770.8 566.5"/>
<circle class="k" cx="763.5" cy="555.5" r="0.6"/>
<!-- bolt 92210 -->
<path class="l" d="M742.6 549.8 V582.8 L735 579.5 M726.4 581.6 V611.6"/>
<path class="w" d="M723.8 574.3 Q726 572.5 728.5 573.5 L729.5 575 L733.5 576.5 L734.3 580 L730 579.5 L728.5 581 Q725 581.5 723.5 579 Z"/>
<path class="l" d="M726.5 574.5 V580 M729.5 575.5 V579.5"/><path class="k" d="M731.5 576.2 L734.2 577 L734.6 580.2 L731.8 579.6 Z"/>
</g>

<!-- 21_hwR.svg -->
<g id="hwR">
<path class="l" d="M867.4 300 V330 M826 326.4 V355.8 M792.5 351.2 V380 M855.6 340.8 L833.4 357.6 M824.4 364.8 L802.2 381 M788 392 L752 420"/>
<path d="M866.4 332.6 L856.8 339.8" stroke="#1a1a1a" stroke-width="3.3" fill="none"/><path d="M864.0 334.4 L856.8 339.8" stroke="#666" stroke-width="1.2" stroke-dasharray="0.6 1.2" fill="none"/><circle cx="866.4" cy="332.6" r="3.1" fill="#222" stroke="#111" stroke-width="1.1"/><circle cx="866.0" cy="332.4" r="0.8" fill="#aaa"/>
<ellipse class="w" cx="827.8" cy="362.2" rx="4.2" ry="5.3" transform="rotate(-18 827.8 362.2)"/><ellipse class="l" cx="827.5" cy="362.6" rx="1.1" ry="1.4"/>
<ellipse cx="796.2" cy="385.9" rx="5.1" ry="6.1" fill="#fff" stroke="#151515" stroke-width="2.6" transform="rotate(-20 796.2 385.9)"/><ellipse class="w" cx="792.6" cy="388.5" rx="4.6" ry="5.5" stroke-width="1.3" transform="rotate(-20 792.6 388.5)"/><ellipse class="l" cx="792.4" cy="388.7" rx="2.3" ry="2.8" transform="rotate(-20 792.4 388.7)"/><circle class="k" cx="792.2" cy="389.0" r="0.7"/>
<path class="l" d="M793.8 420 H823.2 M781.2 421.7 L752.5 426.8"/>
<path d="M783.3 419.6 H788 V422.6 H783.3 Z" fill="#444" stroke="#111" stroke-width="0.8"/><path d="M790 416.5 V425.2" stroke="#111" stroke-width="2.6"/><path d="M793 418 V423.5" stroke="#111" stroke-width="1.2"/>
<path class="l" d="M757.6 349.7 L768.8 400.8 M770.4 412 L779.1 465.1 M780.5 475.6 Q783.3 488 783.3 496 V579.8"/>
<path class="l" d="M878.9 435.7 V465.8 M841.4 468.6 V497.3 M811.6 494 V523.2 M868 440.6 L844.9 458.1 M835.8 465.8 L813.4 481.9 M798 495.2 L791.3 498.7 V462.3 L766 481.5"/>
<path d="M877.8 433.0 L868.2 440.2" stroke="#1a1a1a" stroke-width="3.3" fill="none"/><path d="M875.4 434.8 L868.2 440.2" stroke="#666" stroke-width="1.2" stroke-dasharray="0.6 1.2" fill="none"/><circle cx="877.8" cy="433.0" r="3.1" fill="#222" stroke="#111" stroke-width="1.1"/><circle cx="877.4" cy="432.8" r="0.8" fill="#aaa"/>
<ellipse class="w" cx="839.3" cy="462.3" rx="4.2" ry="5.3" transform="rotate(-18 839.3 462.3)"/><ellipse class="l" cx="839.0" cy="462.7" rx="1.1" ry="1.4"/>
<ellipse cx="807.5" cy="486.9" rx="5.1" ry="6.1" fill="#fff" stroke="#151515" stroke-width="2.6" transform="rotate(-20 807.5 486.9)"/><ellipse class="w" cx="803.9" cy="489.5" rx="4.6" ry="5.5" stroke-width="1.3" transform="rotate(-20 803.9 489.5)"/><ellipse class="l" cx="803.7" cy="489.7" rx="2.3" ry="2.8" transform="rotate(-20 803.7 489.7)"/><circle class="k" cx="803.5" cy="490.0" r="0.7"/>
<path class="l" d="M687 471.4 L581 549 M696 536 L642.4 576"/>
<path class="l" d="M566.5 526 V555 M634.4 588 V617.6"/>
<circle class="w" cx="571.1" cy="558.4" r="2.6"/><circle class="w" cx="567.5" cy="561.0" r="4.6"/><circle class="l" cx="567.3" cy="561.2" r="2.3"/><circle class="k" cx="567.3" cy="561.3" r="1"/>
<circle class="w" cx="637.8" cy="579.0" r="2.6"/><circle class="w" cx="634.2" cy="581.6" r="4.6"/><circle class="l" cx="634.0" cy="581.8" r="2.3"/><circle class="k" cx="634.0" cy="581.9" r="1"/>
<path class="l" d="M563 565.5 L542.4 580 M536 584.8 L530.4 588.8 M526.4 592.8 L518.4 596.8 M514.4 603.2 L494.4 617.6"/>
<path class="l" d="M629.6 585.6 L586.4 617.6 M580 623.2 L574.4 628 M566.4 636 L540.8 652.8 M532.8 656.8 L526.4 662.4 M518.4 668.8 L510.4 676.8 M504 681.6 L495.2 687.7"/>
<path class="l" d="M678.4 400.2 V429.4 M636.2 419 V447.5 M648 447 L676 433.8 M683 430.6 L702.5 422.5 M668 441.2 L697.5 436.3 M702.5 435.2 L710.6 433.6 M716 432.6 L720 432"/>
<ellipse class="w" cx="679" cy="432.8" rx="1.8" ry="2.8" transform="rotate(-25 679 432.8)"/>
<path class="w" d="M642.8 445.8 L630.5 452.5 Q626.5 455 626.5 460 L627.3 552 Q629.5 553.8 632 552 L631.5 462 Q631.5 458.5 634.5 456.8 L644.6 450.6 Q645.6 447.4 642.8 445.8 Z"/>
<path class="l" d="M627 508.5 Q629.3 507 631.8 508.5 M627 510.5 Q629.3 512 631.8 510.5"/>
</g>
<!-- 30_radL.svg -->
<g id="radL">
<path class="l" d="M216 640 V610.8 H324 M348 610.8 H366 L374.5 662.4 M378 684.8 L394.1 777.1 M396.9 795.3 Q400.4 803 400.4 811 V861.8 H303.8 M284.2 861.8 H253 L252 856 M250.4 843.6 L226.6 698 M221.7 674.8 Q218.5 660 216.5 646 M352.5 861.8 V892"/>
<path class="l" d="M317.6 533.6 L336.5 526.4 V663"/>
<path class="w" d="M298.2 691.8 L301 677.8 Q302 675.5 304.5 674.6 L327.6 665.2 Q331 664.5 334.6 665.9 L340.2 670.1 L355.6 668.7 L361.2 673.6 L359.8 680.6 L305.2 701.6 L297.5 700.2 Z"/>
<path class="l" d="M302.5 676.5 L314.3 681.6 L340.2 670.1 M314.3 681.6 L309 695.5 Q307.5 697 305 696.5 L300.5 695.5 Q298.5 694.5 298.2 691.8"/>
<path class="l" d="M297.5 696 L299 698.5 L305.5 699.8 L359.8 678.5 M296 697.5 L297.5 700.2"/>
<ellipse cx="319.2" cy="672.9" rx="4.6" ry="2.6" fill="#333" stroke="#111" stroke-width="1"/><ellipse cx="319.4" cy="672.6" rx="2" ry="1" fill="#777"/>
<path class="l" d="M340.2 670.1 Q347 676 352 673 M355.6 668.7 L361.2 673.6 L366.8 708.6 L365.6 709.4 L362.6 682 M345 676.5 L344 682 M350.5 674.5 L349.5 679.5"/>
<path class="w" d="M324.8 683.4 Q324.5 680 328 679.2 Q331.5 678.8 334 681 L341.6 687.6 L350 698.8 L352.8 705.1 Q351.5 709.5 345.8 709.3 L343 707.2 L336 696 Z"/>
<path class="l" d="M346 709.2 Q344.8 705.5 352.4 704"/>
<path class="l" d="M338 691.5 L341.5 690 M347 690.5 Q349 692.5 351.5 690 M354.5 710.5 L356 713"/>
<path class="l" stroke-width="1.4" d="M297.5 700.2 L308 779.2 M312.9 798.8 L318.5 832.4 L322 838 L326.2 840.1"/>
<path class="l" d="M301.5 703 L313 786 L320.5 833 L323.5 836 M305.2 701.6 L329 838"/>
<path class="l" d="M360.5 680.6 L387.1 815.6 M329 838 L384.3 816.3 M327.5 840.5 L385.5 817.8 M329 842.9 L386.4 819.5 M379.4 783.4 L381.5 783 L387.1 815.6"/>
<path class="w" d="M296.8 703.5 L288 706 Q284.5 708.5 284.9 712.8 Q286 717 290 717.3 L299 717.7 Z"/><circle class="l" cx="290.3" cy="711.4" r="1.8"/>
<path class="w" d="M299.4 721.2 L300.6 729.6 L293.5 730.8 Q291.5 733 291.9 737.5 Q293 740.5 296 740.9 L303.5 742.2 Z"/><circle class="l" cx="296.1" cy="735.9" r="1.8"/>
<path class="w" d="M309.4 783.4 L303.1 787.6 V796 L312.9 798.8 Z"/><ellipse class="l" cx="306.6" cy="791.3" rx="1.5" ry="2.2" transform="rotate(20 306.6 791.3)"/>
<path class="t" d="M303.2 703.9 L328.5 836.7 M307.1 702.4 L332.4 835.2 M311.1 700.8 L336.3 833.6 M315.0 699.3 L340.2 832.1 M318.9 697.8 L344.1 830.6 M322.8 696.3 L348.0 829.0 M326.7 694.8 L351.9 827.5 M333.0 705.8 L355.8 826.0 M338.0 710.0 L359.7 824.4 M347.3 736.6 L363.7 822.9 M353.2 742.2 L368.2 821.1 M358.5 747.8 L372.1 819.6 M363.2 750.6 L376.0 818.0 M368.4 752.0 L380.6 816.3 M373.1 754.8 L384.5 814.7 "/>
<path class="l" d="M317 821 L321 819.3 M329 815.6 L334 813.5 M340.2 810 L345.1 808.6 M351.4 805.1 L356.3 803.7 M364 798.8 L369.6 796 M371 796.7 L380.8 793.9"/>
<path class="l" stroke-dasharray="3 2" d="M365 777 Q362 783 364 790 M366 795 Q368 802 378 808 M366 793 Q370 791 371 797"/>
<path class="l" d="M322 838 L326 842.5 L340.2 852.7 L362.6 842.9 M329 842.9 L340.5 850.5"/>
<path class="w" d="M384.3 818.4 Q385.5 827 380.8 832.4 L392 833.1 Q395.6 833.5 395.6 837.6 Q395.4 842 392 842.2 L378 842.9 Q368 844.5 361.2 840.8 Q358.5 838 359.8 835.2 Q361 831.5 364.5 831 Q372 832.5 378 833.1 L380.8 832.4"/>
<path class="l" d="M392.2 833.2 Q390.4 837.6 392.2 842.1"/>
<path class="l" d="M276 624.8 H306 M280 647.2 H311.5 M312 630 L315.2 642 M316.8 650 L320 668"/>
<path class="w" d="M308 621.5 L309.5 619.8 L314 619.5 L315.5 621.5 L314.8 625.5 L314 628.5 L310.5 628.5 L309 625.5 Z"/><path d="M308.3 621.5 H315.3 L314.8 624.5 H309 Z" fill="#333"/>
<ellipse cx="315.6" cy="646.4" rx="3" ry="1.6" fill="#fff" stroke="#111" stroke-width="1.3"/>
<path class="l" d="M399.2 631.2 V659.5 M436 802 V774 M392 668 L365.4 679.9 M406.7 661.7 L462 638 M441.6 764.8 L479.2 748.8 M380 796 L428 772"/>
<ellipse class="w" cx="402.2" cy="664.3" rx="3.2" ry="5.6" transform="rotate(-22 402.2 664.3)"/><path class="w" d="M400.6 661.7 l-6.2 2.6 q-1.8 2.6 0.4 5.6 l6.6 -2.6 z"/><ellipse class="w" cx="394.6" cy="667.2" rx="1.6" ry="2.9" transform="rotate(-22 394.6 667.2)"/>
<ellipse class="w" cx="437.7" cy="767.3" rx="3.2" ry="5.6" transform="rotate(-22 437.7 767.3)"/><path class="w" d="M436.1 764.7 l-6.2 2.6 q-1.8 2.6 0.4 5.6 l6.6 -2.6 z"/><ellipse class="w" cx="430.1" cy="770.2" rx="1.6" ry="2.9" transform="rotate(-22 430.1 770.2)"/>
<path class="l" d="M307.2 504 V532.8 M257.9 526.4 V556.8 M218.4 545.6 V574.4 M284.3 555.2 V584 M235.2 571.2 L255.2 561.6 M264 558.4 L280 550.4 M290.4 546.4 L297.6 543.2"/>
<path d="M219.4 577.6 L231.6 573.2" stroke="#1a1a1a" stroke-width="3.3" fill="none"/><path d="M222.2 576.6 L231.6 573.2" stroke="#666" stroke-width="1.2" stroke-dasharray="0.6 1.2" fill="none"/><circle cx="219.4" cy="577.6" r="3.1" fill="#222" stroke="#111" stroke-width="1.1"/><circle cx="219.0" cy="577.4" r="0.8" fill="#aaa"/>
<path class="w" d="M255.2 562.4 Q258 559 261.6 563.2 L255.2 582.4 L248.8 577.6 Z"/><circle class="l" cx="258.5" cy="562.5" r="1.7"/>
<ellipse class="w" cx="284.0" cy="549.6" rx="3.4" ry="6.0" transform="rotate(-18 284.0 549.6)"/><ellipse class="l" cx="283.7" cy="550.0" rx="1.1" ry="1.4"/>
<ellipse cx="306.6" cy="539.5" rx="5.1" ry="6.1" fill="#fff" stroke="#151515" stroke-width="2.6" transform="rotate(-20 306.6 539.5)"/><ellipse class="w" cx="303.0" cy="542.1" rx="4.6" ry="5.5" stroke-width="1.3" transform="rotate(-20 303.0 542.1)"/><ellipse class="l" cx="302.8" cy="542.3" rx="2.3" ry="2.8" transform="rotate(-20 302.8 542.3)"/><circle class="k" cx="302.6" cy="542.6" r="0.7"/>
<path class="l" d="M183 844 V874 M129.4 871.6 V901 M156.4 902 V932 M210.4 876 V907 M266.4 904 V935 M144 898 L153 894.4 M166 888 L180 882 M191 877 L198 874 M219 865 L312 826"/>
<path d="M129.0 904.4 L141.2 900.0" stroke="#1a1a1a" stroke-width="3.3" fill="none"/><path d="M131.8 903.4 L141.2 900.0" stroke="#666" stroke-width="1.2" stroke-dasharray="0.6 1.2" fill="none"/><circle cx="129.0" cy="904.4" r="3.1" fill="#222" stroke="#111" stroke-width="1.1"/><circle cx="128.6" cy="904.2" r="0.8" fill="#aaa"/>
<path class="w" d="M151 895 Q156 888.5 161 889.5 Q163.5 891.5 160 897 L156 902.5 Z"/><path class="l" d="M159 889.5 Q157.5 892 159.5 894.5"/>
<ellipse class="w" cx="184.4" cy="880.0" rx="3.4" ry="5.6" transform="rotate(-18 184.4 880.0)"/><ellipse class="l" cx="184.1" cy="880.4" rx="1.1" ry="1.4"/>
<ellipse cx="206.8" cy="870.3" rx="5.1" ry="6.1" fill="#fff" stroke="#151515" stroke-width="2.6" transform="rotate(-20 206.8 870.3)"/><ellipse class="w" cx="203.2" cy="872.9" rx="4.6" ry="5.5" stroke-width="1.3" transform="rotate(-20 203.2 872.9)"/><ellipse class="l" cx="203.0" cy="873.1" rx="2.3" ry="2.8" transform="rotate(-20 203.0 873.1)"/><circle class="k" cx="202.8" cy="873.4" r="0.7"/>
<path class="l" d="M276 901 L294.5 908 V842 M294.5 834 V788 L301 789"/>
<path class="w" d="M264.5 898 Q266.5 895.5 269.5 896.5 L271 898 L275 899.5 L275.8 903 L271.5 902.5 L270 904.5 Q266.5 905 264.5 902.5 Z"/><path class="l" d="M267.5 897.5 V904 M270.8 898.5 V902.5"/><path class="k" d="M273 899.3 L275.8 900 L276 903 L273.3 902.5 Z"/>
<path class="l" d="M179 772 H208.4 M214 763.6 L218.2 744.7 L280 757.8 L289.8 714.2"/>
<circle cx="212.6" cy="769.9" r="3.6" fill="#222" stroke="#111" stroke-width="1.6"/><circle cx="212.3" cy="770.3" r="1.3" fill="#ddd"/>
</g>
<!-- 31_guardL.svg -->
<g id="guardL">
<path class="l" d="M126.3 564 V592.5"/>
<!-- left side panel -->
<path class="w" d="M116 611.8 Q109 625 107.6 638.4 L109 646.8 L114.6 660 L130 706.2 L135.6 718.8 L141.2 749.6 Q142 752.5 144 753.1 L156.6 751 L166.4 749.6 L167.8 746.8 L179 744 L181.8 741.2 L187.4 739.1 L195.8 737 L200 734.2 L200.7 730 L206 730.5 Q209.5 731 208.4 728.5 L201 728 L201.4 717.4 L207 716 Q210 713 209.8 707 L208.4 706.2 L195.1 623 L191.6 618.1 L181.8 617.4 L186.7 605.5 L131.4 616 Z"/>
<!-- top plate -->
<path class="w" d="M109.7 602 L137 589.4 Q139 589 141.2 590.1 L151 594.3 Q156 595.5 160.8 594.3 L174.1 588 L184.6 592.9 L131.4 616 L111.8 606.9 Q108.5 604.5 109.7 602 Z"/>
<path class="l" d="M184.6 592.9 V596.4 L189.5 598.5 Q191 600.5 190.2 602.7 L186.7 605.5 H181"/>
<!-- slats -->
<path class="l" stroke-width="1.9" d="M132.8 616 L146.8 700 L156.6 751 M137 618.8 L150 700 L153.5 722 M143.3 611.6 L145 614 M143.3 611.6 L150.3 614.6 L163.6 700 L174.1 745.4 M157.3 606.9 L159 609.5 M157.3 606.9 L164.3 609 L180.4 700 L188.1 738.4 M171.3 600.6 L173 603.5 M171.3 600.6 L177.6 602 L193 686 L199.3 732.8 M181.8 617.4 L191.6 618.1 M193 625.8 L205.6 700 L208.4 706.2"/>
<path class="l" d="M142.6 665 L151 664.3 M158.7 659.4 L165.7 658.7 M172.7 653.1 L179.7 652.4 M186 648.2 L192.3 647.1 M151 711.1 L158.7 710.1 M166.4 705.5 L173.4 704.8 M180.4 699.2 L187.4 698.5 M193.7 693.6 L200 692.9"/>
<!-- left panel detail -->
<path class="l" d="M117.4 670.6 L137 666.4 M120.2 674 L130 706.2 L144 704.8 L148.2 707.6 V714.6 L141.2 718.8 H132.8 L132.1 716 L141 715 L141.5 708 M131 618.5 L141 664"/>
<path class="l" d="M141.5 708.5 L147 707.5 V713.5 L141.8 715 Z"/><circle class="k" cx="144.3" cy="711.5" r="1.2"/>
<!-- bolt + triangle leader + long leader to radiator -->
<circle class="w" cx="129.3" cy="632.8" r="4.4" stroke-width="1.4"/><circle cx="129.5" cy="632.8" r="2.1" fill="#111"/>
<path class="l" d="M128.6 637.2 L123 662.2 L137 665.6 L297 697.5"/>
<path class="w" d="M133.5 654.5 L136.5 653.3 L138.5 655.5 L138 658.8 L135 660 L133 658 Z"/>
</g>

<!-- 50_misc.svg -->
<path class="l" d="M447.2 472 V500.5"/>

<g class="lbl">
<text x="840.2 848.4 855.8 863.2 870.7" y="130.9" font-size="12.9">E3032</text>
<text x="426.6 435.0 443.4 451.8 460.2 467.8" y="240.4">14037A</text>
<text x="659.0 667.4 675.8 684.2 692.6 700.2" y="317.1">39061A</text>
<text x="842.3 850.7 859.1 867.5 875.9 883.5" y="297.2">92154A</text>
<text x="805.0 813.4 821.8 830.2 838.6" y="324.1">92200</text>
<text x="770.5 778.9 787.3 795.7 804.1" y="348.1">92161</text>
<text x="632.0 640.4 648.8 657.2 665.6" y="377.1">49085</text>
<text x="657.0 665.4 673.8 682.2 690.6" y="396.1">92037</text>
<text x="615.0 623.4 631.8 640.2 648.6" y="416.1">92192</text>
<text x="824.8 833.2 841.6 850.0 858.4 866.0" y="425.4">92154B</text>
<text x="853.5 861.9 870.3 878.7 887.1 894.7" y="480.1">92154A</text>
<text x="820.5 828.9 837.3 845.7 854.1" y="512.1">92200</text>
<text x="790.5 798.9 807.3 815.7 824.1" y="536.1">92161</text>
<text x="705.5 713.9 722.3 730.7 739.1" y="625.1">92210</text>
<text x="544.5 552.9 561.3 569.7 578.1" y="523.1">92152</text>
<text x="613.5 621.9 630.3 638.7 647.1" y="631.1">92152</text>
<text x="409.6 419.2 429.6 438.0 444.0 454.4 461.2 467.6 478.0" y="468.1">Ref.Frame</text>
<text x="285.5 293.9 302.3 310.7 319.1" y="500.1">92161</text>
<text x="214.6 224.2 234.6 243.0 248.2 257.8 266.2 277.0 283.0 291.8" y="523.1">Ref.Cables</text>
<text x="193.5 201.9 210.3 218.7 227.1 234.7" y="541.1">92154A</text>
<text x="263.5 271.9 280.3 288.7 297.1" y="598.1">92200</text>
<text x="105.9 114.3 122.7 131.1 139.5" y="561.2">14037</text>
<text x="232.5 240.9 249.3 257.7 266.1" y="630.0">92154</text>
<text x="237.2 245.6 254.0 262.4 270.8" y="652.8">92055</text>
<text x="378.5 386.9 395.3 403.7 412.1" y="626.3">92152</text>
<text x="126.5 134.9 143.3 151.7 160.1 167.7" y="778.1">92154B</text>
<text x="416.5 424.9 433.3 441.7 450.1" y="818.1">92152</text>
<text x="161.5 169.9 178.3 186.7 195.1" y="841.1">92200</text>
<text x="103.8 112.2 120.6 129.0 137.4 145.0" y="867.8">92154A</text>
<text x="189.6 198.0 206.4 214.8 223.2" y="918.9">92161</text>
<text x="331.4 339.8 348.2 356.6 365.0" y="905.9">39061</text>
<text x="113.6 123.2 133.6 142.0 147.2 156.8 165.2 176.0 182.0 190.8" y="946.1">Ref.Cables</text>
<text x="245.8 254.2 262.6 271.0 279.4" y="947.8">92210</text>
</g>
</svg>
</body></html>
